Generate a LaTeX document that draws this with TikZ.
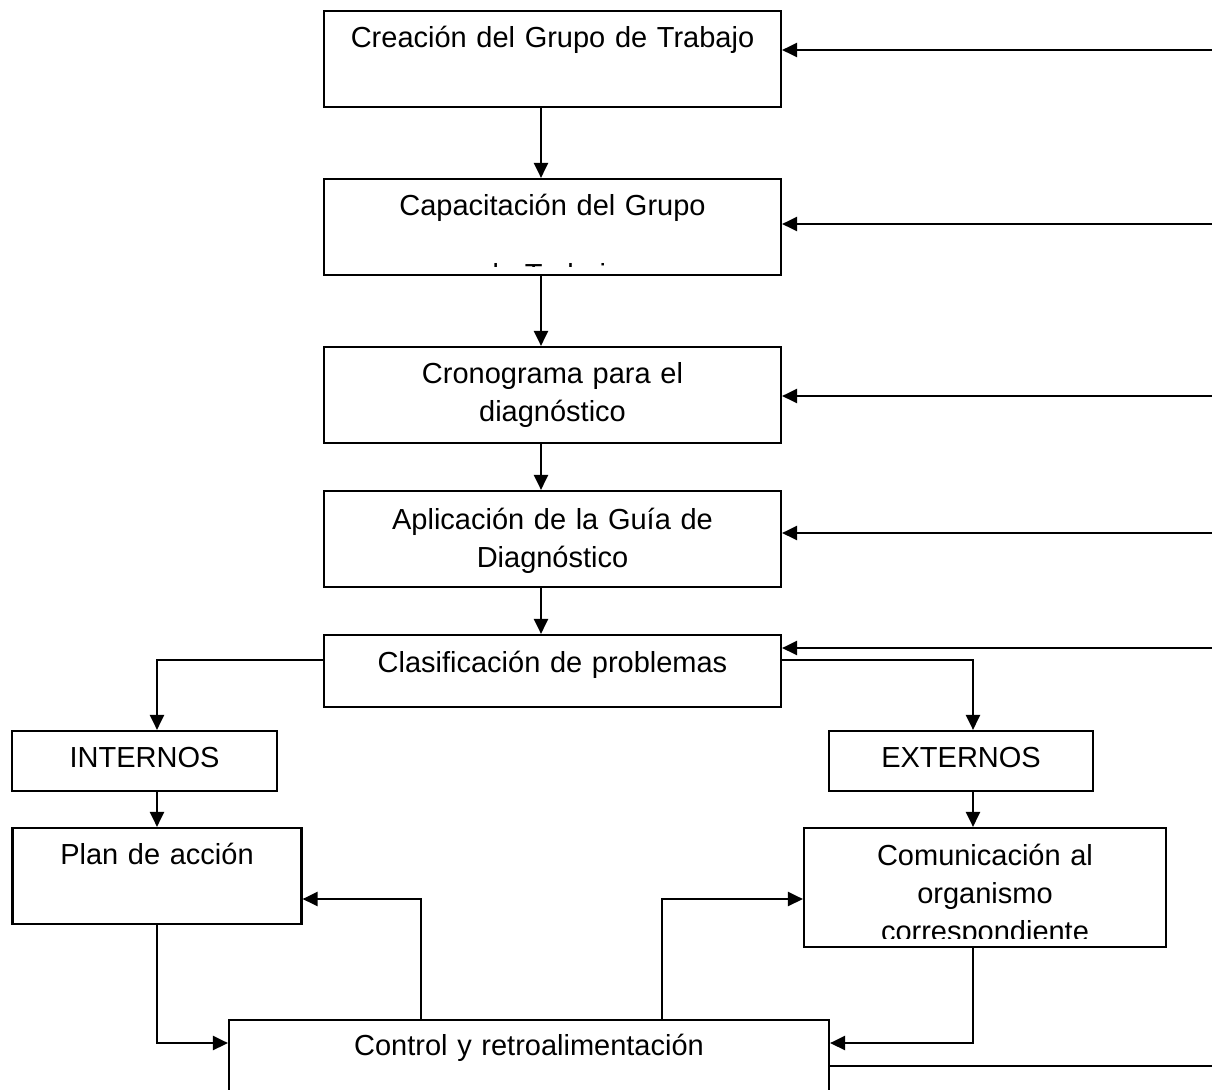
\documentclass[tikz,border=0pt]{standalone}
\usepackage{fontspec}
\setmainfont{Liberation Sans}
\usetikzlibrary{positioning,arrows.meta}

\begin{document}
\begin{tikzpicture}[
    x=0.02cm,
    y=-0.02cm,
    ->,
    >={Triangle[length=0.3cm,width=0.28cm]},
    line width=1.25pt,
    font=\fontsize{16.5}{21.6}\selectfont
]

\tikzstyle{stage}=[
    draw,
    rectangle,
    inner sep=0pt,
    minimum width=9.14cm,
    minimum height=1.92cm
]
\tikzstyle{stagetext}=[
    inner sep=0pt,
    text width=8.8cm,
    align=center,
    anchor=base
]

\useasboundingbox (0,0) rectangle (1212,1089);
\clip (0,0) rectangle (1212,1089);

% main column
\node[stage] (b1) at (552.5,59) {};
\node[stage] (b2) at (552.5,227) {};
\node[stage] (b3) at (552.5,395) {};
\node[stage] (b4) at (552.5,539) {};
\node[stage, minimum height=1.44cm] (b5) at (552.5,671) {};

% branches and loop
\node[stage, minimum width=5.3cm, minimum height=1.2cm] (int) at (144.5,761) {};
\node[stage, minimum width=5.28cm, minimum height=1.2cm] (ext) at (961,761) {};
\node[stage, minimum width=5.78cm] (plan) at (157,876) {};
\node[stage, minimum width=7.24cm, minimum height=2.38cm] (com) at (985,887.5) {};
\node[stage, minimum width=12cm, minimum height=1.9cm] (ctrl) at (529,1067.5) {};

% texts
\node[stagetext] (t1) at ([yshift=-0.76cm]b1.north) {Creación del Grupo de Trabajo};
\begin{scope}
\clip (b2.north west) rectangle ([yshift=0.2cm]b2.south east);
\node[stagetext] (t2) at ([yshift=-0.76cm]b2.north) {Capacitación del Grupo\\[17.6pt]de Trabajo};
\end{scope}
\node[stagetext] (t3) at ([yshift=-0.76cm]b3.north) {Cronograma para el\\diagnóstico};
\node[stagetext] (t4) at ([yshift=-0.8cm]b4.north) {Aplicación de la Guía de\\Diagnóstico};
\node[stagetext] (t5) at ([yshift=-0.78cm]b5.north) {Clasificación de problemas};
\node[stagetext] (t6) at ([yshift=-0.76cm]int.north) {INTERNOS};
\node[stagetext] (t7) at ([yshift=-0.76cm]ext.north) {EXTERNOS};
\node[stagetext] (t8) at ([yshift=-0.76cm]plan.north) {Plan de acción};
\begin{scope}
\clip (com.north west) rectangle ([yshift=0.2cm]com.south east);
\node[stagetext] (t9) at ([yshift=-0.78cm]com.north) {Comunicación al\\organismo\\correspondiente};
\end{scope}
\node[stagetext] (t10) at ([yshift=-0.74cm]ctrl.north) {Control y retroalimentación};

% down the column
\draw ([xshift=-0.23cm]b1.south) -- ([xshift=-0.23cm]b2.north);
\draw ([xshift=-0.23cm]b2.south) -- ([xshift=-0.23cm]b3.north);
\draw ([xshift=-0.23cm]b3.south) -- ([xshift=-0.23cm]b4.north);
\draw ([xshift=-0.23cm]b4.south) -- ([xshift=-0.23cm]b5.north);

% split
\draw ([yshift=0.22cm]b5.west) -| (plan.north |- int.north);
\draw ([yshift=0.22cm]b5.east) -| ([xshift=0.24cm]ext.north);
\draw (plan.north |- int.south) -- (plan.north);
\draw ([xshift=0.24cm]ext.south) -- ([xshift=0.24cm]ext.south |- com.north);

% feedback
\draw (plan.south) |- ([yshift=0.49cm]ctrl.west);
\draw ([xshift=-2.16cm]ctrl.north) |- ([yshift=-0.46cm]plan.east);
\draw ([xshift=2.66cm]ctrl.north) |- ([yshift=-0.23cm]com.west);
\draw ([xshift=-0.24cm]com.south) |- ([yshift=0.49cm]ctrl.east);

% inputs from the right
\coordinate (in1) at (1230,50);
\coordinate (in2) at (1230,224);
\coordinate (in3) at (1230,396);
\coordinate (in4) at (1230,533);
\coordinate (in5) at (1230,648);
\coordinate (out) at (1230,1066);
\draw (in1) -- (b1.east |- in1);
\draw (in2) -- (b2.east |- in2);
\draw (in3) -- (b3.east |- in3);
\draw (in4) -- (b4.east |- in4);
\draw (in5) -- (b5.east |- in5);
\draw[-] (ctrl.east |- out) -- (out);

\end{tikzpicture}
\end{document}
